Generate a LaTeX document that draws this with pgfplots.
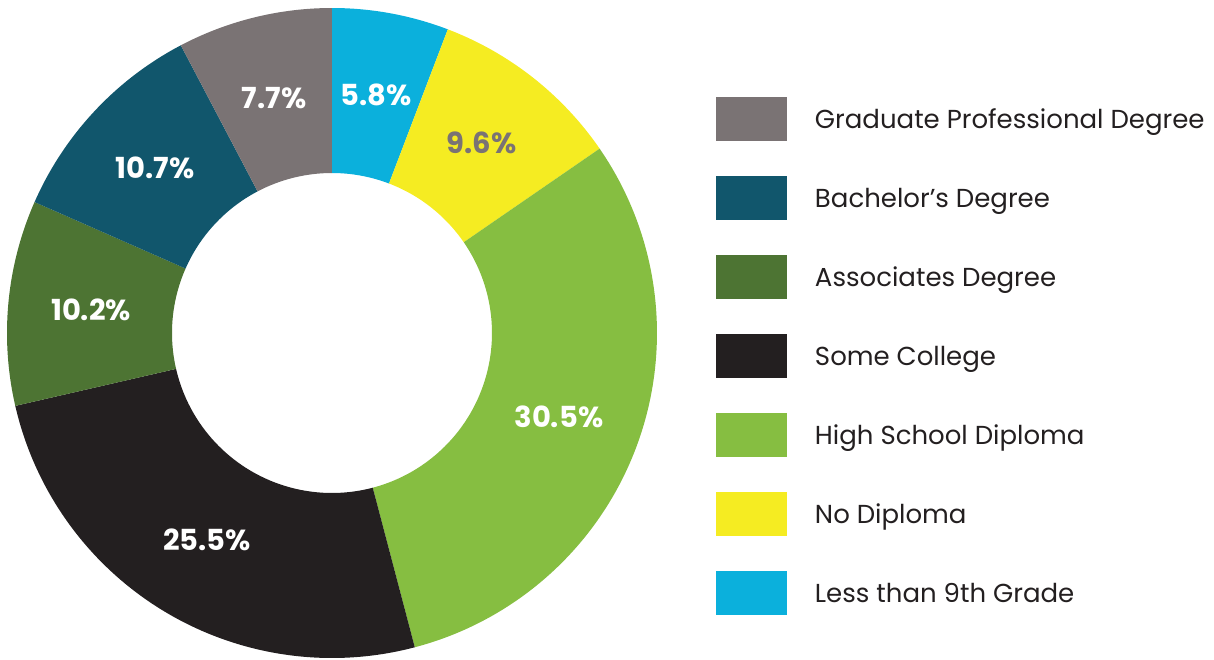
\documentclass[border=0pt]{standalone}
\usepackage{fontspec}
\setmainfont{Poppins}
\usepackage{pgfplots}
\usepackage{pgfplotstable}
\pgfplotsset{compat=1.18}
\definecolor{cBlue}{HTML}{0BB0DC}
\definecolor{cYellow}{HTML}{F5EC22}
\definecolor{cGreen}{HTML}{86BE41}
\definecolor{cBlack}{HTML}{231F20}
\definecolor{cDGreen}{HTML}{4D7433}
\definecolor{cTeal}{HTML}{11566C}
\definecolor{cGray}{HTML}{7A7374}
\definecolor{cText}{HTML}{231F20}
% slices clockwise from 12 o'clock
\pgfplotstableread[col sep=comma]{
name,value,color,lab
Less than 9th Grade,5.8,cBlue,white
No Diploma,9.6,cYellow,cGray
High School Diploma,30.5,cGreen,white
Some College,25.5,cBlack,white
Associates Degree,10.2,cDGreen,white
Bachelor's Degree,10.7,cTeal,white
Graduate Professional Degree,7.7,cGray,white
}\datatable
\begin{document}
\begin{tikzpicture}
\begin{axis}[
  at={(0,0)}, anchor=south west,
  x=0.5bp, y=0.5bp, scale only axis,
  xmin=0, xmax=1214, ymin=0, ymax=660,
  hide axis, clip=false,
  legend image code/.code={\path[#1] (0bp,-10.5bp) rectangle (35.5bp,11.5bp); \path (49.5bp,0bp);},
  legend cell align=left,
  legend style={at={(axis cs:716,563)}, anchor=north west, draw=none, fill=none,
    inner sep=0pt, outer sep=0pt, row sep=17.5bp,
    nodes={inner sep=0pt, text=cText},
    font=\fontsize{13bp}{16bp}\selectfont},
]
\addlegendimage{fill=cGray, draw=none}\addlegendentry{Graduate Professional Degree}
\addlegendimage{fill=cTeal, draw=none}\addlegendentry{Bachelor’s Degree}
\addlegendimage{fill=cDGreen, draw=none}\addlegendentry{Associates Degree}
\addlegendimage{fill=cBlack, draw=none}\addlegendentry{Some College}
\addlegendimage{fill=cGreen, draw=none}\addlegendentry{High School Diploma}
\addlegendimage{fill=cYellow, draw=none}\addlegendentry{No Diploma}
\addlegendimage{fill=cBlue, draw=none}\addlegendentry{Less than 9th Grade}
\pgfplotsextra{
  \gdef\cum{0}
  \pgfplotstablegetrowsof{\datatable}
  \pgfmathtruncatemacro\N{\pgfplotsretval-1}
  \begin{scope}[shift={(axis cs:332,327)}]
  \foreach \i in {0,...,\N}{
    \pgfplotstablegetelem{\i}{value}\of\datatable \let\v\pgfplotsretval
    \pgfplotstablegetelem{\i}{color}\of\datatable \let\c\pgfplotsretval
    \pgfplotstablegetelem{\i}{lab}\of\datatable \let\lc\pgfplotsretval
    \pgfmathsetmacro\a{90-3.6*\cum}
    \pgfmathsetmacro\b{90-3.6*(\cum+\v)}
    \pgfmathsetmacro\m{(\a+\b)/2}
    \fill[\c] (\a:162.5bp) arc[start angle=\a, end angle=\b, radius=162.5bp]
      -- (\b:80bp) arc[start angle=\b, end angle=\a, radius=80bp] -- cycle;
    \node[text=\lc, font=\fontsize{14.5bp}{18bp}\selectfont\bfseries] at (\m:121bp) {\v\%};
    \pgfmathsetmacro\nc{\cum+\v}
    \xdef\cum{\nc}
  }
  \end{scope}
}
\end{axis}
\pgfresetboundingbox
\path (0,0) rectangle (607bp,330bp);
\end{tikzpicture}
\end{document}
